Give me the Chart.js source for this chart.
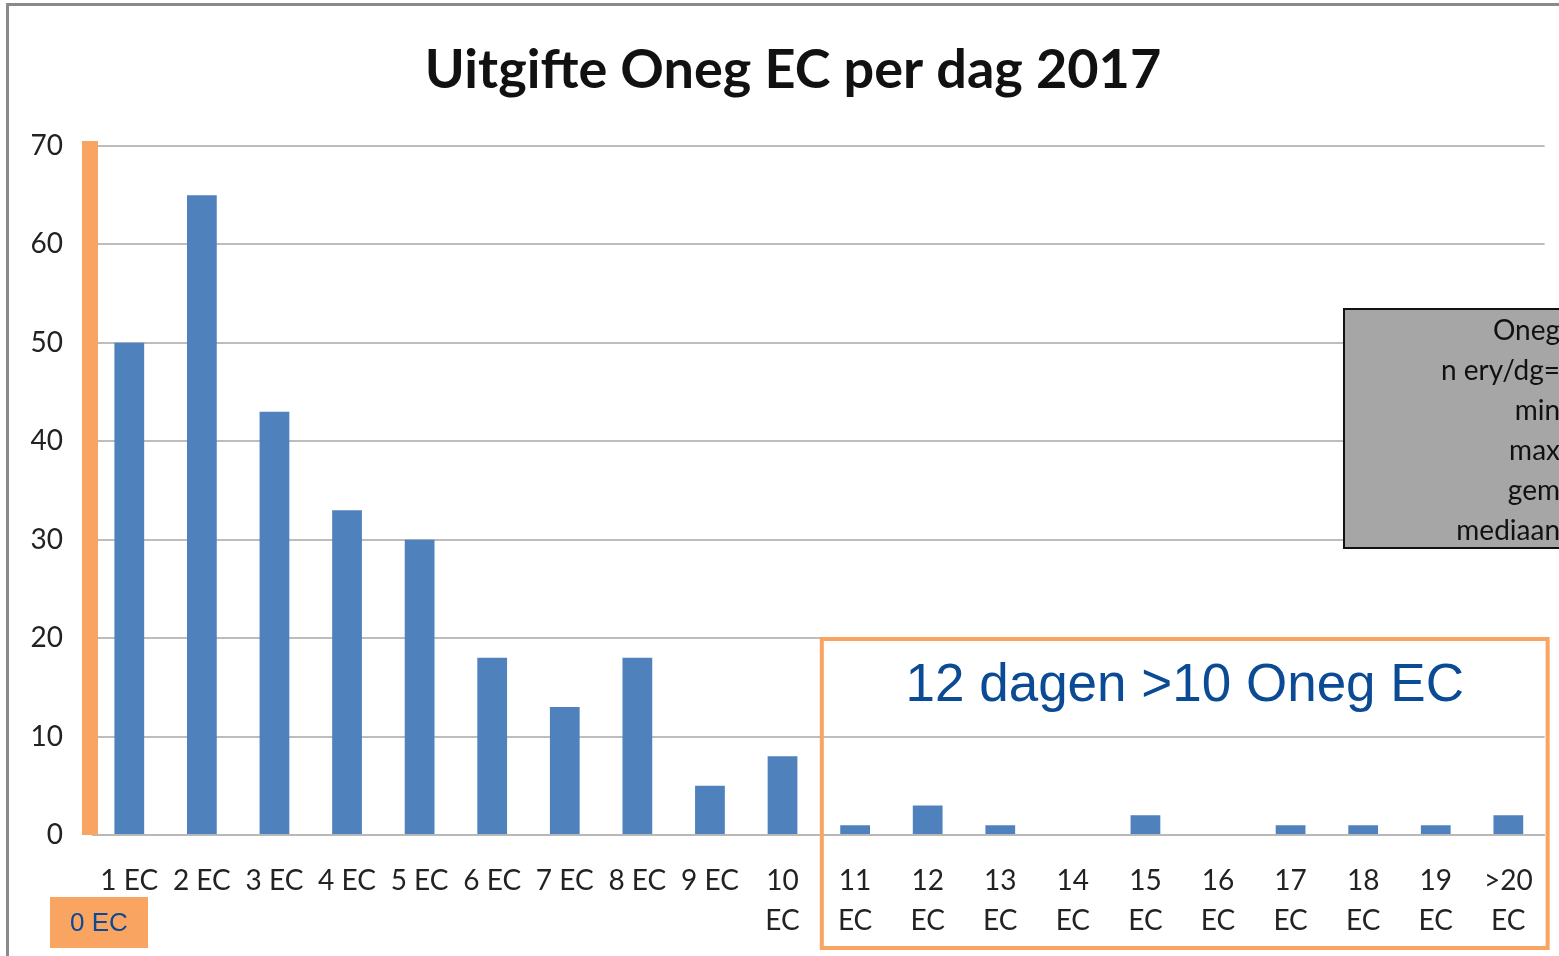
<!DOCTYPE html>
<html>
<head>
<meta charset="utf-8">
<script src="https://cdn.jsdelivr.net/npm/chart.js@4"></script>
<style>
  html, body { margin: 0; padding: 0; background: #fff; }
  #wrap { width: 1559px; height: 956px; position: relative; }
</style>
</head>
<body>
<div id="wrap"><canvas id="chart"></canvas></div>
<script>
// ----------------------
// Data
// ----------------------
const categories = ['1 EC', '2 EC', '3 EC', '4 EC', '5 EC', '6 EC', '7 EC', '8 EC', '9 EC',
  ['10', 'EC'], ['11', 'EC'], ['12', 'EC'], ['13', 'EC'], ['14', 'EC'], ['15', 'EC'],
  ['16', 'EC'], ['17', 'EC'], ['18', 'EC'], ['19', 'EC'], ['>20', 'EC']];
const dagen = [50, 65, 43, 33, 30, 18, 13, 18, 5, 8, 1, 3, 1, 0, 2, 0, 1, 1, 1, 2];
const yTicks = [0, 10, 20, 30, 40, 50, 60, 70];
const statsLines = ['Oneg', 'n ery/dg=', 'min', 'max', 'gem', 'mediaan'];

const titleText = 'Uitgifte Oneg EC per dag 2017';
const calloutText = '12 dagen >10 Oneg EC';
const zeroLabel = '0 EC';

const ORANGE = '#f9a461';
const NAVY = '#0b4a94';

// ----------------------
// Overlay: title, frame, callouts
// ----------------------
const overlay = {
  id: 'overlay',
  afterDraw(chart) {
    const { ctx, chartArea, scales } = chart;
    const x = scales.x, y = scales.y;
    ctx.save();

    // outer frame (left + top)
    ctx.fillStyle = '#8a8a8a';
    ctx.fillRect(6, 3, 3, chart.height);
    ctx.fillRect(6, 3, chart.width, 3);

    // title
    ctx.fillStyle = '#111';
    ctx.font = 'bold 54px Lato';
    ctx.textAlign = 'center';
    ctx.textBaseline = 'middle';
    ctx.fillText(titleText, 793, 71);

    // orange bar left of axis
    ctx.fillStyle = ORANGE;
    const top = y.getPixelForValue(70) - 5;
    ctx.fillRect(chartArea.left - 11, top, 16, y.getPixelForValue(0) - top);

    // 0 EC box
    ctx.fillRect(50, 897, 98, 51);
    ctx.fillStyle = NAVY;
    ctx.font = '26px "Liberation Sans"';
    ctx.fillText(zeroLabel, 99, 924);

    // grey stats box
    ctx.fillStyle = '#a6a6a6';
    ctx.fillRect(1344, 309, 240, 239);
    ctx.strokeStyle = '#111';
    ctx.lineWidth = 2;
    ctx.strokeRect(1344, 309, 240, 239);
    ctx.fillStyle = '#111';
    ctx.font = '28px Lato';
    ctx.textAlign = 'right';
    statsLines.forEach((s, i) => ctx.fillText(s, 1560, 331 + i * 40));

    // orange callout rectangle around 11..>20
    const half = (x.getPixelForValue(1) - x.getPixelForValue(0)) / 2;
    const rx = x.getPixelForValue(10) - half + 3;
    const rr = x.getPixelForValue(19) + half + 3;
    ctx.strokeStyle = ORANGE;
    ctx.lineWidth = 4;
    ctx.strokeRect(rx, 639, rr - rx, 309);
    ctx.fillStyle = NAVY;
    ctx.font = '53px "Liberation Sans"';
    ctx.textAlign = 'center';
    ctx.fillText(calloutText, (rx + rr) / 2, 686);

    ctx.restore();
  }
};

// ----------------------
// Chart
// ----------------------
new Chart(document.getElementById('chart'), {
  type: 'bar',
  data: {
    labels: categories,
    datasets: [{
      data: dagen,
      backgroundColor: '#4f81bd',
      categoryPercentage: 1,
      barPercentage: 0.41
    }]
  },
  options: {
    responsive: true,
    maintainAspectRatio: false,
    animation: false,
    layout: { padding: { left: 0, right: 12, top: 146, bottom: 0 } },
    plugins: { legend: { display: false }, tooltip: { enabled: false } },
    scales: {
      x: {
        grid: { display: false, drawTicks: false },
        border: { color: '#b8b8b8', width: 2 },
        ticks: {
          autoSkip: false, maxRotation: 0, padding: 26,
          color: '#222', font: { family: 'Lato', size: 28, lineHeight: 1.43 }
        },
        afterFit(s) { s.height = 121; }
      },
      y: {
        min: 0, max: 70,
        afterBuildTicks(s) { s.ticks = yTicks.map(v => ({ value: v })); },
        grid: { color: '#bdbdbd', lineWidth: 2, drawTicks: false },
        border: { display: false },
        ticks: { padding: 30, color: '#222', font: { family: 'Lato', size: 28 } },
        afterFit(s) { s.width = 93; }
      }
    }
  },
  plugins: [overlay]
});
</script>
</body>
</html>
